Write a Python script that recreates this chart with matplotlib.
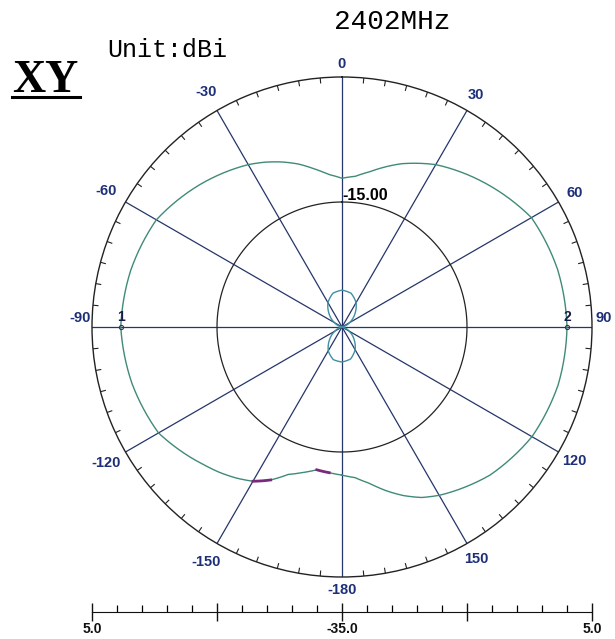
import numpy as np
import matplotlib.pyplot as plt

# main trace (XY cut, 2402MHz), angle in deg clockwise from top, gain in dBi
angles = [-180, -175, -170, -165, -160, -155, -150, -145, -140, -135, -120, -105,
          -90, -75, -60, -45, -30, -25, -20, -15, -10, -5, 0, 5, 10, 15, 20, 25,
          30, 45, 60, 75, 90, 105, 120, 135, 150, 155, 160, 165, 170, 175, 180]
gain = [-11.3, -11.6, -11.8, -10.9, -9.9, -8.0, -6.5, -5.5, -4.6, -3.8, -1.1, -0.2,
        0.4, 0.0, -0.7, -2.8, -5.0, -5.9, -6.9, -8.0, -9.3, -10.5, -11.2, -10.8, -9.8, -8.5, -7.2, -6.1,
        -5.0, -2.5, 0.0, 0.7, 1.0, 0.8, 0.1, -1.5, -3.9, -4.9, -6.3, -7.9, -9.6, -10.8, -11.3]

# small second trace near the centre
lobe_angles = [-90, -75, -60, -45, -30, -15, 0, 15, 30, 45, 60, 75, 90,
               105, 120, 135, 150, 165, 180, 195, 210, 225, 240, 255, 270]
lobe_gain = [-35.0, -34.7, -33.6, -32.1, -30.5, -29.4, -29.1, -29.4, -30.5, -32.1, -33.6, -34.7, -35.0,
             -34.7, -33.7, -32.3, -30.8, -29.7, -29.4, -29.6, -30.6, -32.2, -33.7, -34.7, -35.0]

label_angles = [0, 30, 60, 90, 120, 150, 180, 210, 240, 270, 300, 330]
label_texts = ['0', '30', '60', '90', '120', '150', '-180', '-150', '-120', '-90', '-60', '-30']

r_min, r_max = -35.0, 5.0
ring_level = -15.0

navy = '#1d2f78'
spoke_col = '#26366a'
trace_col = '#3f8a78'
lobe_col = '#3f8fa2'

W, H = 615, 639
fig = plt.figure(figsize=(W / 100, H / 100), dpi=100)

# polar plot: centre (342, 327) px, radius 250 px
cx, cy, R = 342, 327, 250
ax = fig.add_axes([(cx - R) / W, 1 - (cy + R) / H, 2 * R / W, 2 * R / H], projection='polar')
ax.set_theta_zero_location('N')
ax.set_theta_direction(-1)
ax.set_rlim(r_min, r_max)
ax.set_xticks([])
ax.set_yticks([])
ax.grid(False)
ax.spines['polar'].set_color('#222222')
ax.spines['polar'].set_linewidth(1.0)


def curved(line, steps=24):
    # let the polar transform draw arcs between the read points
    line.get_path()._interpolation_steps = steps
    return line


# spokes every 30 deg
for a in range(0, 360, 30):
    t = np.deg2rad(a)
    ax.plot([t, t], [r_min, r_max], color=spoke_col, lw=0.9)

# little ticks on the outer ring every 5 deg
for a in range(0, 360, 5):
    if a % 30 == 0:
        continue
    t = np.deg2rad(a)
    ax.plot([t, t], [r_max - 0.8, r_max], color='#222222', lw=0.8)

# -15 dB ring
th = np.linspace(0, 2 * np.pi, 361)
ax.plot(th, np.full_like(th, ring_level), color='#222222', lw=0.9)
ax.annotate('-15.00', xy=(0, ring_level), xytext=(0, 5), textcoords='offset points',
            ha='left', va='center', fontsize=11.5, fontweight='bold', family='Liberation Sans')

# traces
curved(ax.plot(np.deg2rad(lobe_angles), lobe_gain, color=lobe_col, lw=1.0)[0])
curved(ax.plot(np.deg2rad(angles), gain, color=trace_col, lw=1.0)[0])

# purple highlighted pieces of the trace
ang = np.array(angles)
g = np.array(gain)
for lo, hi in [(-155, -150), (-175, -170)]:
    m = (ang >= lo) & (ang <= hi)
    curved(ax.plot(np.deg2rad(ang[m]), g[m], color='#7a2a7a', lw=2.0)[0])

# markers 1 and 2
for a, s in [(-90, '1'), (90, '2')]:
    gv = g[ang == a][0]
    ax.plot(np.deg2rad(a), gv, marker='o', ms=3, mfc='none', mec='#333355', mew=0.8)
    ax.annotate(s, xy=(np.deg2rad(a), gv), xytext=(0, 7), textcoords='offset points',
                ha='center', va='center', fontsize=10, fontweight='bold', color='#1a1a4a',
                family='Liberation Sans')

# angle labels
for a, s in zip(label_angles, label_texts):
    if a in (90, 270):
        t = np.deg2rad(a - 2 if a == 90 else a + 2)
        rr = 6.9
    elif a in (0, 180):
        t = np.deg2rad(a)
        rr = 7.1
    elif a > 180:
        t = np.deg2rad(a)
        rr = 8.5
    else:
        t = np.deg2rad(a)
        rr = 7.9
    ax.text(t, rr, s, ha='center', va='center', fontsize=10.5, fontweight='bold',
            color=navy, family='Liberation Sans', clip_on=False)

# linear scale under the plot
bx = fig.add_axes([(cx - R) / W, 1 - 612 / H, 2 * R / W, 0.0001])
bx.set_xlim(-40, 40)
bx.set_ylim(0, 1)
for k in ['top', 'left', 'right']:
    bx.spines[k].set_visible(False)
bx.spines['bottom'].set_color('#111111')
bx.set_yticks([])
bx.set_xticks([-40, -20, 0, 20, 40])
bx.set_xticklabels(['5.0', '', '-35.0', '', '5.0'])
bx.set_xticks(np.arange(-40, 41, 4), minor=True)
bx.tick_params(axis='x', which='major', direction='inout', length=13, width=1.0, pad=1,
               labelsize=10, colors='#111111')
bx.tick_params(axis='x', which='minor', direction='in', length=5, width=0.9)
for lab in bx.get_xticklabels():
    lab.set_fontweight('bold')
    lab.set_family('Liberation Sans')

# header texts
fig.text(392 / W, 1 - 22 / H, '2402MHz', ha='center', va='center', fontsize=20,
         family='Liberation Mono')
fig.text(107 / W, 1 - 50 / H, 'Unit:dBi', ha='left', va='center', fontsize=18,
         family='Liberation Mono')
fig.text(12 / W, 1 - 92 / H, 'XY', ha='left', va='baseline', fontsize=33,
         fontweight='bold', family='Liberation Serif')
fig.add_artist(plt.Line2D([12 / W, 80 / W], [1 - 97 / H, 1 - 97 / H], color='black', lw=2.2))

fig.savefig('out.png', dpi=100, facecolor='white')
